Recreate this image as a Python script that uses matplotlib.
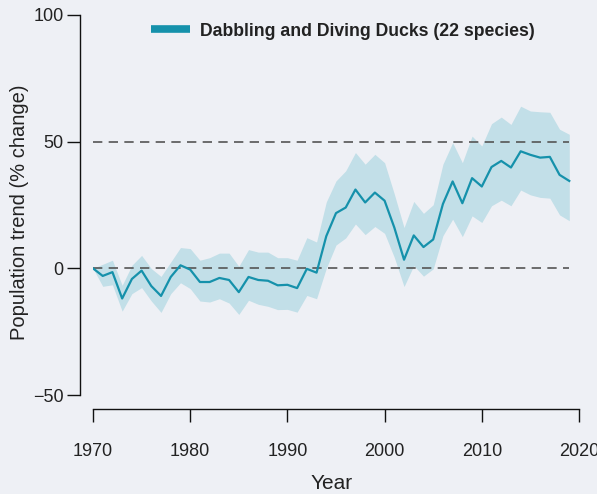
import matplotlib
matplotlib.use("Agg")
import matplotlib.pyplot as plt
from matplotlib.lines import Line2D
import numpy as np

years = list(range(1970, 2020))
trend = [0.0, -3.0, -1.5, -11.9, -4.2, -0.9, -7.0, -10.9, -3.4, 1.2,
         -0.5, -5.4, -5.4, -3.8, -4.6, -9.4, -3.4, -4.6, -4.9, -6.7,
         -6.5, -7.8, -0.2, -1.7, 12.7, 21.8, 24.0, 31.1, 26.0, 29.9,
         26.7, 16.1, 3.4, 13.0, 8.4, 11.4, 25.4, 34.3, 25.7, 35.6,
         32.3, 40.0, 42.4, 39.8, 46.2, 44.8, 43.7, 44.0, 36.9, 34.5]
upper = [0.0, 1.6, 3.2, -6.7, 1.2, 5.1, -0.1, -3.2, 2.5, 8.2,
         7.8, 3.2, 4.2, 6.0, 6.0, 0.8, 7.4, 6.4, 6.4, 4.2,
         4.2, 3.2, 12.1, 10.4, 26.2, 34.5, 38.5, 45.7, 41.1, 45.0,
         41.7, 29.3, 16.1, 26.4, 21.7, 25.1, 41.1, 49.6, 41.7, 52.2,
         48.3, 57.1, 59.7, 56.8, 64.0, 62.1, 61.8, 61.6, 54.9, 52.9]
lower = [0.0, -7.1, -6.5, -16.9, -10.0, -7.6, -12.9, -17.4, -10.0, -5.7,
         -8.0, -12.9, -13.3, -12.0, -13.7, -18.2, -12.6, -14.2, -15.0, -16.3,
         -16.2, -17.3, -10.7, -12.0, 0.0, 9.2, 12.0, 17.5, 13.3, 16.5,
         13.8, 4.3, -7.2, 1.1, -3.1, -0.2, 12.9, 19.4, 12.5, 20.7,
         18.1, 24.7, 26.9, 24.7, 30.9, 29.0, 28.0, 27.7, 21.1, 18.8]
ref_levels = [0, 50]
x_ticks = [1970, 1980, 1990, 2000, 2010, 2020]
y_ticks = [-50, 0, 50, 100]
y_tick_labels = ["\u221250", "0", "50", "100"]
series_label = "Dabbling and Diving Ducks (22 species)"

BG = "#eef0f5"
LINE = "#1591ab"
BAND = "#c2dfe8"
TXT = "#222222"

plt.rcParams["font.family"] = ["Liberation Sans", "DejaVu Sans"]

fig = plt.figure(figsize=(5.97, 4.94), dpi=100, facecolor=BG)
W, H = 597, 494
ax = fig.add_axes([93 / W, (H - 395) / H, 486 / W, 380 / H])
ax.set_facecolor(BG)

ax.fill_between(years, lower, upper, color=BAND, linewidth=0, zorder=1)
for lv in ref_levels:
    ax.plot([years[0], years[-1]], [lv, lv], color="#555555", lw=1.2,
            dashes=(5.6, 3.8), zorder=2)
ax.plot(years, trend, color=LINE, lw=1.6, zorder=3)

ax.set_xlim(1970, 2020)
ax.set_ylim(-50, 100)
ax.set_xticks(x_ticks)
ax.set_yticks(y_ticks)
ax.set_yticklabels(y_tick_labels)

for s in ["top", "right"]:
    ax.spines[s].set_visible(False)
ax.spines["left"].set_position(("outward", 9.4))
ax.spines["bottom"].set_position(("outward", 10))
ax.spines["left"].set_bounds(-50, 100)
ax.spines["bottom"].set_bounds(1970, 2020)
for s in ["left", "bottom"]:
    ax.spines[s].set_linewidth(1.0)
    ax.spines[s].set_color("#111111")

ax.tick_params(axis="y", length=9.4, width=1.0, pad=2.5, labelsize=13,
               labelcolor=TXT, color="#111111")
ax.tick_params(axis="x", length=9.6, width=1.0, pad=15, labelsize=13,
               labelcolor=TXT, color="#111111")

ax.set_xlabel("Year", fontsize=15, color=TXT)
ax.xaxis.set_label_coords(0.49, -0.207)
ax.set_ylabel("Population trend (% change)", fontsize=14.5, color=TXT)
ax.yaxis.set_label_coords(-0.131, 0.48)

handle = Line2D([0], [0], color=LINE, lw=5.5, solid_capstyle="butt")
leg = ax.legend([handle], [series_label], loc="center left",
                bbox_to_anchor=(151 / W, (H - 31) / H),
                bbox_transform=fig.transFigure, frameon=False,
                borderpad=0, borderaxespad=0, handlelength=2.2,
                handletextpad=0.55,
                prop={"weight": "bold", "size": 12.7})
for t in leg.get_texts():
    t.set_color(TXT)

fig.savefig("out.png", dpi=100, facecolor=BG)
